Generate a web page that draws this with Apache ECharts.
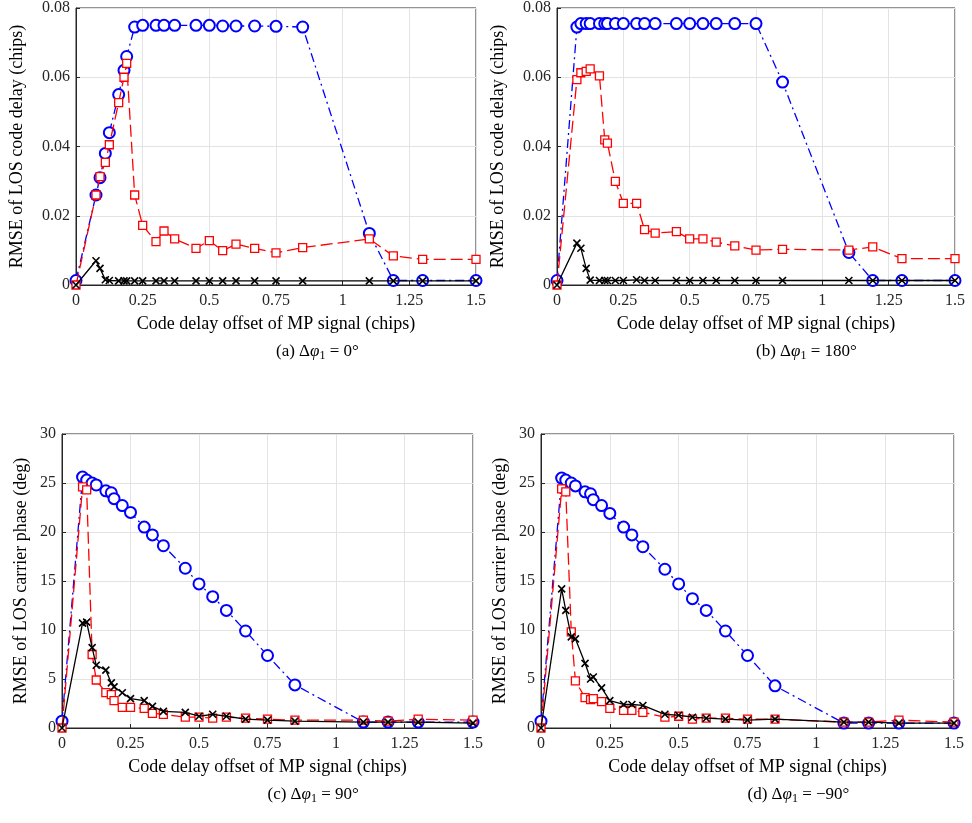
<!DOCTYPE html>
<html>
<head>
<meta charset="utf-8">
<script src="https://cdn.jsdelivr.net/npm/echarts@6/dist/echarts.min.js"></script>
<style>html,body{margin:0;background:#fff}#c{width:972px;height:823px}</style>
</head>
<body>
<div id="c"></div>
<script>
var offsets = [0, 0.075, 0.09, 0.11, 0.125, 0.16, 0.18, 0.19, 0.22, 0.25, 0.3, 0.33, 0.37, 0.45, 0.5, 0.55, 0.6, 0.67, 0.75, 0.85, 1.1, 1.19, 1.3, 1.5];

// (a) dphi = 0
var codeBlueA = [0.0013, 0.026, 0.031, 0.038, 0.044, 0.055, 0.062, 0.066, 0.0745, 0.075, 0.075, 0.075, 0.075, 0.075, 0.075, 0.0748, 0.0748, 0.0748, 0.0747, 0.0745, 0.0149, 0.0013, 0.0013, 0.0013];
var codeRedA = [0, 0.026, 0.0313, 0.0354, 0.0405, 0.0527, 0.060, 0.064, 0.026, 0.0172, 0.0125, 0.0156, 0.0133, 0.0106, 0.0128, 0.0099, 0.0118, 0.0106, 0.0093, 0.0108, 0.0133, 0.0084, 0.0074, 0.0074];
var codeBlackA = [0, 0.007, 0.0048, 0.0015, 0.0013, 0.0012, 0.0012, 0.0012, 0.0012, 0.0012, 0.0012, 0.0012, 0.0012, 0.0012, 0.0012, 0.0012, 0.0012, 0.0012, 0.0012, 0.0012, 0.0012, 0.0012, 0.0012, 0.0012];
// (b) dphi = 180
var codeBlueB = [0.0013, 0.0745, 0.0755, 0.0755, 0.0755, 0.0755, 0.0755, 0.0755, 0.0755, 0.0755, 0.0755, 0.0755, 0.0755, 0.0755, 0.0755, 0.0755, 0.0755, 0.0755, 0.0755, 0.0586, 0.0094, 0.0013, 0.0013, 0.0013];
var codeRedB = [0, 0.0593, 0.0613, 0.0617, 0.0624, 0.0604, 0.0419, 0.041, 0.0299, 0.0236, 0.0236, 0.016, 0.015, 0.0154, 0.0133, 0.0133, 0.0124, 0.0113, 0.0101, 0.0103, 0.0101, 0.011, 0.0076, 0.0076];
var codeBlackB = [0, 0.0121, 0.0106, 0.0048, 0.0014, 0.0013, 0.0013, 0.0013, 0.0013, 0.0013, 0.0015, 0.0013, 0.0013, 0.0013, 0.0013, 0.0013, 0.0013, 0.0013, 0.0013, 0.0013, 0.0013, 0.0013, 0.0013, 0.0013];
// (c) dphi = 90
var phaseBlueC = [0.7, 25.6, 25.3, 25.0, 24.8, 24.2, 24.0, 23.4, 22.7, 22.0, 20.5, 19.7, 18.6, 16.3, 14.7, 13.4, 12.0, 9.9, 7.4, 4.4, 0.6, 0.6, 0.6, 0.6];
var phaseRedC = [0, 24.6, 24.3, 7.5, 4.9, 3.6, 3.4, 2.8, 2.1, 2.1, 2.0, 1.5, 1.4, 1.1, 1.1, 1.0, 1.1, 1.0, 0.9, 0.8, 0.8, 0.7, 0.9, 0.8];
var phaseBlackC = [0, 10.7, 10.8, 8.2, 6.4, 5.9, 4.6, 4.2, 3.6, 3.0, 2.8, 2.2, 1.7, 1.6, 1.2, 1.4, 1.2, 0.9, 0.8, 0.7, 0.6, 0.6, 0.6, 0.5];
// (d) dphi = -90
var phaseBlueD = [0.7, 25.5, 25.3, 25.0, 24.7, 24.1, 23.9, 23.3, 22.7, 21.9, 20.5, 19.7, 18.5, 16.2, 14.7, 13.2, 12.0, 9.9, 7.4, 4.3, 0.5, 0.5, 0.5, 0.5];
var phaseRedD = [0, 24.4, 24.1, 9.8, 4.8, 3.1, 2.9, 3.0, 2.7, 2.0, 1.8, 1.8, 1.6, 1.1, 1.2, 0.9, 1.0, 1.0, 0.9, 0.9, 0.6, 0.6, 0.8, 0.6];
var phaseBlackD = [0, 14.2, 12.0, 9.3, 9.1, 6.6, 5.0, 5.2, 4.1, 2.8, 2.4, 2.4, 2.3, 1.4, 1.3, 1.1, 1.0, 0.9, 0.8, 0.9, 0.6, 0.6, 0.5, 0.5];

var xTicks = ['0', '0.25', '0.5', '0.75', '1', '1.25', '1.5'];
var captions = ['(a) ', '(b) ', '(c) ', '(d) '];
var captionAngles = ['0°', '180°', '90°', '\u221290°'];

var FONT = 'Liberation Serif';
var crossPath = 'path://M0,0L10,10M10,0L0,10';

var panels = [
    {box: [76, 8, 476, 285], max: 0.08, step: 0.02, yName: 'RMSE of LOS code delay (chips)', data: [codeBlueA, codeRedA, codeBlackA], fmt: function (v) { return v === 0 ? '0' : v.toFixed(2); }},
    {box: [557, 8, 955, 285], max: 0.08, step: 0.02, yName: 'RMSE of LOS code delay (chips)', data: [codeBlueB, codeRedB, codeBlackB], fmt: function (v) { return v === 0 ? '0' : v.toFixed(2); }},
    {box: [62, 434, 473, 728], max: 30, step: 5, yName: 'RMSE of LOS carrier phase (deg)', data: [phaseBlueC, phaseRedC, phaseBlackC], fmt: function (v) { return String(v); }},
    {box: [541, 434, 954, 728], max: 30, step: 5, yName: 'RMSE of LOS carrier phase (deg)', data: [phaseBlueD, phaseRedD, phaseBlackD], fmt: function (v) { return String(v); }}
];

function pairs(ys) {
    return offsets.map(function (x, i) { return [x, ys[i]]; });
}

var grids = [], xAxes = [], yAxes = [], series = [], texts = [];
panels.forEach(function (p, k) {
    var b = p.box;
    grids.push({left: b[0], top: b[1], width: b[2] - b[0], height: b[3] - b[1], show: true, borderColor: '#262626', borderWidth: 1});
    xAxes.push({
        gridIndex: k, type: 'value', min: 0, max: 1.5, interval: 0.25,
        name: 'Code delay offset of MP signal (chips)', nameLocation: 'middle', nameGap: 30,
        nameTextStyle: {fontFamily: FONT, fontSize: 18, color: '#000'},
        axisLine: {lineStyle: {color: '#262626'}},
        axisTick: {inside: true, length: 4, lineStyle: {color: '#262626'}},
        axisLabel: {fontFamily: FONT, fontSize: 16, color: '#262626', margin: 8,
            formatter: function (v) { return xTicks[Math.round(v / 0.25)]; }},
        splitLine: {lineStyle: {color: '#e3e3e3'}}
    });
    yAxes.push({
        gridIndex: k, type: 'value', min: 0, max: p.max, interval: p.step,
        name: p.yName, nameLocation: 'middle', nameGap: k < 2 ? 50 : 32,
        nameTextStyle: {fontFamily: FONT, fontSize: 18, color: '#000'},
        axisLine: {show: true, lineStyle: {color: '#262626'}},
        axisTick: {inside: true, length: 4, lineStyle: {color: '#262626'}},
        axisLabel: {fontFamily: FONT, fontSize: 16, color: '#262626', margin: 6, formatter: p.fmt},
        splitLine: {lineStyle: {color: '#e3e3e3'}}
    });
    series.push({
        type: 'line', xAxisIndex: k, yAxisIndex: k, data: pairs(p.data[0]),
        symbol: 'emptyCircle', symbolSize: 11, z: 3,
        lineStyle: {color: '#0000ff', width: 1.3, type: [9, 4, 2, 4]},
        itemStyle: {color: '#0000ff', borderColor: '#0000ff', borderWidth: 1.3}
    });
    series.push({
        type: 'line', xAxisIndex: k, yAxisIndex: k, data: pairs(p.data[1]),
        symbol: 'rect', symbolSize: 8, z: 4,
        lineStyle: {color: '#ff0000', width: 1.3, type: [12, 5]},
        itemStyle: {color: '#fff', borderColor: '#ff0000', borderWidth: 1.3}
    });
    series.push({
        type: 'line', xAxisIndex: k, yAxisIndex: k, data: pairs(p.data[2]),
        symbol: crossPath, symbolSize: 7, z: 5,
        lineStyle: {color: '#000', width: 1.3},
        itemStyle: {color: 'none', borderColor: '#000', borderWidth: 1.6}
    });
    texts.push({
        type: 'text', left: (b[0] + b[2]) / 2, top: b[3] + 58,
        style: {
            text: '{n|' + captions[k] + 'Δ}{i|φ}{s|1}{n| = ' + captionAngles[k] + '}',
            textAlign: 'center',
            rich: {
                n: {fontFamily: FONT, fontSize: 17, fill: '#000'},
                i: {fontFamily: FONT, fontSize: 17, fontStyle: 'italic', fill: '#000'},
                s: {fontFamily: FONT, fontSize: 12, fill: '#000', padding: [8, 0, 0, 0]}
            }
        }
    });
});

var chart = echarts.init(document.getElementById('c'));
chart.setOption({
    animation: false,
    grid: grids,
    xAxis: xAxes,
    yAxis: yAxes,
    series: series,
    graphic: texts
});
</script>
</body>
</html>
